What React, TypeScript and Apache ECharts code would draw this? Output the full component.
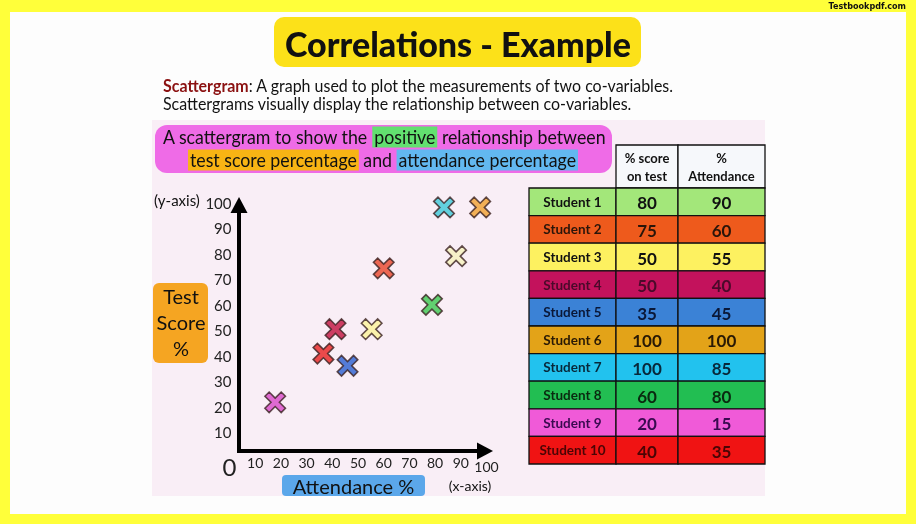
import React, { useEffect, useRef } from "react";
import * as echarts from "echarts";

const students = ["Student 1", "Student 2", "Student 3", "Student 4", "Student 5", "Student 6", "Student 7", "Student 8", "Student 9", "Student 10"];
const scores = [80, 75, 50, 50, 35, 100, 100, 60, 20, 40];
const attendance = [90, 60, 55, 40, 45, 100, 85, 80, 15, 35];
const tickStep = 10;

const rowColors = ["#A3E77A", "#EE5A1C", "#FDF160", "#C3125C", "#3B82D6", "#E3A318", "#22C2EE", "#22BE52", "#F05AD8", "#F01313"];
const rowTextColors = ["#111", "#2a150a", "#111", "#4a0a2a", "#0a1838", "#2a1a05", "#08283a", "#0a2a10", "#3a0a50", "#4a0505"];
const markColors = ["#F6F3BE", "#E8452A", "#FBF29A", "#C0123E", "#2B5FD0", "#F0A030", "#3CC8D8", "#3CC850", "#D848C8", "#E82020"];

const F = "Lato, 'Open Sans', sans-serif";

function txt(x: number, y: number, text: string, o: any = {}) {
  const { scaleX, z, ...s } = o;
  return {
    type: "text",
    x,
    y,
    scaleX: scaleX ?? 1,
    z: z ?? 5,
    style: {
      text,
      fill: "#111",
      fontFamily: F,
      fontSize: 14,
      textAlign: "center",
      align: "center",
      textVerticalAlign: "middle",
      verticalAlign: "middle",
      ...s,
    },
  };
}

export default function App() {
  const ref = useRef<HTMLDivElement>(null);
  useEffect(() => {
    if (!ref.current) return;
    const chart = echarts.init(ref.current, undefined, { renderer: "svg" });

    const table: any[] = [];
    const c1 = [529, 616], c2 = [616, 678], c3 = [678, 765];
    const rowTop = 188, rowH = 27.6;
    const cellStroke = { stroke: "#111", lineWidth: 1.3 };
    table.push({ type: "rect", z: 3, shape: { x: c2[0], y: 145, width: c2[1] - c2[0], height: rowTop - 145 }, style: { fill: "#F6F8FB", ...cellStroke } });
    table.push({ type: "rect", z: 3, shape: { x: c3[0], y: 145, width: c3[1] - c3[0], height: rowTop - 145 }, style: { fill: "#F6F8FB", ...cellStroke } });
    table.push(txt((c2[0] + c2[1]) / 2, 167, "% score\non test", { fontSize: 13, fontWeight: "bold", lineHeight: 18 }));
    table.push(txt((c3[0] + c3[1]) / 2, 167, "%\nAttendance", { fontSize: 13, fontWeight: "bold", lineHeight: 18 }));
    students.forEach((s, i) => {
      const y = rowTop + i * rowH;
      [c1, c2, c3].forEach((c) => {
        table.push({ type: "rect", z: 3, shape: { x: c[0], y, width: c[1] - c[0], height: rowH }, style: { fill: rowColors[i], ...cellStroke } });
      });
      const cy = y + rowH / 2;
      table.push(txt((c1[0] + c1[1]) / 2, cy, s, { fontSize: 13.5, fontWeight: "bold", fill: rowTextColors[i] }));
      table.push(txt((c2[0] + c2[1]) / 2, cy + 1, String(scores[i]), { fontSize: 17, fontWeight: "bold", fill: rowTextColors[i] }));
      table.push(txt((c3[0] + c3[1]) / 2, cy + 1, String(attendance[i]), { fontSize: 17, fontWeight: "bold", fill: rowTextColors[i] }));
    });

    const plusPath = "path://M7.4,0 L12.6,0 L12.6,7.4 L20,7.4 L20,12.6 L12.6,12.6 L12.6,20 L7.4,20 L7.4,12.6 L0,12.6 L0,7.4 L7.4,7.4 Z";

    const option: any = {
      animation: false,
      grid: [
        { left: 239, top: 205, width: 246, height: 246 },
        { left: 229.5, top: 203, width: 257, height: 254.4 },
      ],
      xAxis: [
        {
          gridIndex: 0, type: "value", min: 0, max: 102,
          axisLine: { show: true, symbol: ["none", "triangle"], symbolSize: [17, 16], lineStyle: { color: "#000", width: 4, cap: "square" } },
          axisTick: { show: false }, axisLabel: { show: false }, splitLine: { show: false },
        },
        {
          gridIndex: 1, type: "value", min: 0, max: 100, interval: tickStep,
          axisLine: { show: false }, axisTick: { show: false }, splitLine: { show: false },
          axisLabel: {
            margin: -2, fontSize: 14, color: "#222", fontFamily: F,
            formatter: (v: number) => (v === 0 ? "{z|0}" : v === 100 ? "{h|100}" : String(v)),
            rich: {
              z: { fontSize: 24, lineHeight: 22, fontFamily: F, color: "#222" },
              h: { fontSize: 14, lineHeight: 17, padding: [6, 0, 0, 0], fontFamily: F, color: "#222" },
            },
          },
        },
      ],
      yAxis: [
        {
          gridIndex: 0, type: "value", min: 0, max: 101,
          axisLine: { show: true, symbol: ["none", "triangle"], symbolSize: [17, 16], lineStyle: { color: "#000", width: 4, cap: "square" } },
          axisTick: { show: false }, axisLabel: { show: false }, splitLine: { show: false },
        },
        {
          gridIndex: 1, type: "value", min: 0, max: 100, interval: tickStep,
          axisLine: { show: false }, axisTick: { show: false }, splitLine: { show: false },
          axisLabel: { margin: -2, fontSize: 15, color: "#222", fontFamily: F, formatter: (v: number) => (v === 0 ? "" : String(v)) },
        },
      ],
      series: [
        {
          type: "scatter",
          xAxisIndex: 0,
          yAxisIndex: 0,
          symbol: plusPath,
          symbolSize: 23,
          symbolRotate: 45,
          z: 10,
          data: students.map((s, i) => ({
            name: s,
            value: [attendance[i], scores[i]],
            itemStyle: { color: markColors[i], borderColor: "#3a2020", borderWidth: 1.6 },
          })),
        },
      ],
      graphic: {
        elements: [
          { type: "rect", z: -100, shape: { x: 0, y: 0, width: 916, height: 524 }, style: { fill: "#FFFF3A" } },
          { type: "rect", z: -99, shape: { x: 10, y: 12, width: 896, height: 502 }, style: { fill: "#FDFDFD" } },
          txt(906, 5.5, "Testbookpdf.com", { fontSize: 9, fontWeight: "bold", textAlign: "right", align: "right", fontFamily: "'DejaVu Sans', sans-serif", scaleX: 0.9 }),
          { type: "rect", z: 1, shape: { x: 274, y: 17, width: 367, height: 50, r: 10 }, style: { fill: "#FCE119" } },
          txt(458, 43, "Correlations - Example", { fontSize: 34, fontWeight: 900 }),
          txt(163, 86, "{r|Scattergram}: A graph used to plot the measurements of two co-variables.", {
            fontSize: 17, textAlign: "left", align: "left", scaleX: 0.94,
            rich: { r: { fill: "#8B1111", color: "#8B1111", fontWeight: "bold", fontSize: 17, fontFamily: F } },
          }),
          txt(163, 104, "Scattergrams visually display the relationship between co-variables.", { fontSize: 17, textAlign: "left", align: "left", scaleX: 0.94 }),
          { type: "rect", z: -50, shape: { x: 152, y: 120, width: 613, height: 376 }, style: { fill: "#F9EEF6" } },
          { type: "rect", z: 1, shape: { x: 155, y: 125, width: 457, height: 48, r: 12 }, style: { fill: "#EF6BE7" } },
          txt(384, 137, "A scattergram to show the {g|positive} relationship between", {
            fontSize: 19, scaleX: 0.935,
            rich: { g: { backgroundColor: "#62E070", padding: [1, 2, 1, 2], fontSize: 19, fontFamily: F } },
          }),
          txt(383, 160, "{o|test score percentage} and {b|attendance percentage}", {
            fontSize: 19, scaleX: 0.935,
            rich: {
              o: { backgroundColor: "#F8B414", padding: [1, 2, 1, 2], fontSize: 19, fontFamily: F },
              b: { backgroundColor: "#62B8F0", padding: [1, 2, 1, 2], fontSize: 19, fontFamily: F },
            },
          }),
          { type: "rect", z: 1, shape: { x: 153, y: 283, width: 55, height: 80, r: 6 }, style: { fill: "#F5A522" } },
          txt(181, 322, "Test\nScore\n%", { fontSize: 20, lineHeight: 26 }),
          { type: "rect", z: 1, shape: { x: 282, y: 475, width: 143, height: 21, r: 4 }, style: { fill: "#5BA7EA" } },
          txt(353.5, 486, "Attendance %", { fontSize: 20 }),
          txt(154, 200, "(y-axis)", { fontSize: 15, textAlign: "left", align: "left" }),
          txt(470, 485, "(x-axis)", { fontSize: 14 }),
          ...table,
        ],
      },
    };
    chart.setOption(option);
    return () => chart.dispose();
  }, []);
  return <div ref={ref} style={{ position: "fixed", left: 0, top: 0, width: 916, height: 524 }} />;
}
